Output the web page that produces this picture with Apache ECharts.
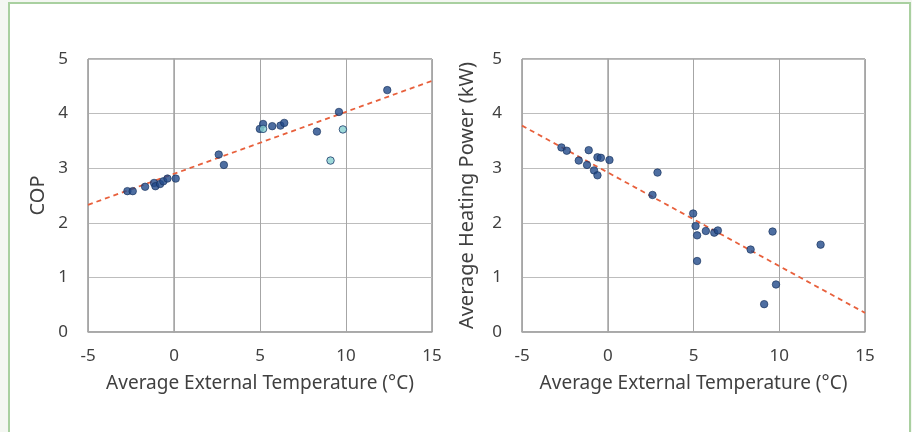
<!DOCTYPE html>
<html>
<head>
<meta charset="utf-8">
<script src="https://cdn.jsdelivr.net/npm/echarts@6/dist/echarts.min.js"></script>
<style>
  html, body { margin: 0; padding: 0; background: #f4f7f2; }
  #frame { position: absolute; left: 8px; top: 2px; width: 899px; height: 450px;
           background: #fff; border: 2px solid #a9d0a0; }
  #chart { position: absolute; left: 0; top: 0; width: 912px; height: 432px; }
</style>
</head>
<body>
<div id="frame"></div>
<div id="chart"></div>
<script>
// COP vs temperature (dark points / lighter points)
const copDark = [
  [-2.71, 2.58], [-2.40, 2.58], [-1.68, 2.66], [-1.16, 2.73], [-1.08, 2.67],
  [-0.81, 2.71], [-0.62, 2.76], [-0.38, 2.81], [0.10, 2.81], [2.60, 3.25],
  [2.90, 3.06], [4.99, 3.72], [5.18, 3.81], [5.71, 3.77], [6.19, 3.78],
  [6.41, 3.83], [8.31, 3.67], [9.59, 4.03], [12.40, 4.43]
];
const copLight = [[5.18, 3.72], [9.10, 3.14], [9.82, 3.71]];
const copTrend = [[-5, 2.33], [15, 4.60]];

// heating power vs temperature
const power = [
  [-2.70, 3.38], [-2.39, 3.32], [-1.69, 3.14], [-1.11, 3.33], [-1.21, 3.06],
  [-0.80, 2.96], [-0.60, 2.87], [-0.60, 3.20], [-0.40, 3.19], [0.10, 3.15],
  [2.61, 2.51], [2.90, 2.92], [4.98, 2.17], [5.12, 1.94], [5.21, 1.77],
  [5.21, 1.30], [5.72, 1.85], [6.21, 1.82], [6.42, 1.86], [8.33, 1.51],
  [9.61, 1.84], [9.12, 0.51], [9.81, 0.87], [12.41, 1.60]
];
const powerTrend = [[-5, 3.78], [15, 0.35]];

const xTitle = 'Average External Temperature (°C)';
const font = 'Noto Sans';
const textColor = '#404040';

function xAxisFor(idx) {
  return {
    gridIndex: idx, type: 'value', min: -5, max: 15, interval: 5,
    name: xTitle, nameLocation: 'middle', nameGap: 42,
    nameTextStyle: { fontFamily: font, fontSize: 19, color: textColor },
    axisLabel: { fontFamily: font, fontSize: 17, color: textColor, margin: 16 },
    axisLine: { show: true, lineStyle: { color: '#a6a6a6', width: 1.5 } },
    axisTick: { show: false },
    splitLine: { lineStyle: { color: '#a6a6a6', width: 1 } }
  };
}
function yAxisFor(idx, title, gap) {
  return {
    gridIndex: idx, type: 'value', min: 0, max: 5, interval: 1,
    name: title, nameLocation: 'middle', nameGap: gap,
    nameTextStyle: { fontFamily: font, fontSize: 20, color: textColor },
    axisLabel: { fontFamily: font, fontSize: 17, color: textColor, margin: 20 },
    axisLine: { show: true, lineStyle: { color: '#a6a6a6', width: 1.5 } },
    axisTick: { show: false },
    splitLine: { lineStyle: { color: '#bdbdbd', width: 1.2 } }
  };
}

const dotStyle = { color: '#224a8a', borderColor: '#15305a', borderWidth: 0.8 };
const lightStyle = { color: '#86cfcf', borderColor: '#1c3a6a', borderWidth: 1 };
const trendStyle = { color: '#e8603c', width: 1.8, type: [5, 4] };

const option = {
  animation: false,
  grid: [
    { left: 88, top: 59, width: 344, height: 273, show: true, borderColor: '#606060', borderWidth: 1 },
    { left: 522, top: 59, width: 343, height: 273, show: true, borderColor: '#606060', borderWidth: 1 }
  ],
  xAxis: [xAxisFor(0), xAxisFor(1)],
  yAxis: [yAxisFor(0, 'COP', 40), yAxisFor(1, 'Average Heating Power (kW)', 45)],
  series: [
    { type: 'line', xAxisIndex: 0, yAxisIndex: 0, data: copTrend, showSymbol: false,
      lineStyle: trendStyle, z: 2 },
    { type: 'scatter', xAxisIndex: 0, yAxisIndex: 0, data: copDark, symbolSize: 7.5,
      itemStyle: dotStyle, z: 3 },
    { type: 'scatter', xAxisIndex: 0, yAxisIndex: 0, data: copLight, symbolSize: 7.5,
      itemStyle: lightStyle, z: 4 },
    { type: 'line', xAxisIndex: 1, yAxisIndex: 1, data: powerTrend, showSymbol: false,
      lineStyle: trendStyle, z: 2 },
    { type: 'scatter', xAxisIndex: 1, yAxisIndex: 1, data: power, symbolSize: 7.5,
      itemStyle: dotStyle, z: 3 }
  ]
};

const myChart = echarts.init(document.getElementById('chart'));
myChart.setOption(option);
window.addEventListener('resize', () => {
  myChart.resize();
});
</script>
</body>
</html>
